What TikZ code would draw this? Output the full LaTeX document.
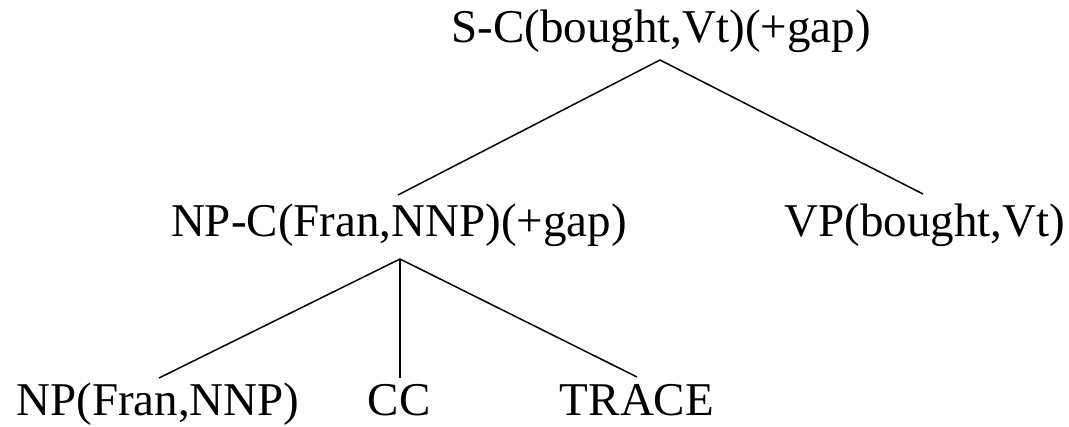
\documentclass[tikz,border=0pt]{standalone}
\usepackage{fontspec}
\setmainfont{Liberation Serif}
\begin{document}
\begin{tikzpicture}[x=1pt,y=1pt,
  lbl/.style={anchor=base,inner sep=0pt,font=\fontsize{47}{50}\selectfont},
  edge/.style={line width=1.5pt}]
\useasboundingbox (0,0) rectangle (1069,426);
\node[lbl] (s) at (661,383) {S-C(bought,Vt)(+gap)};
\node[lbl] (npc) at (399,189) {NP-C(Fran,NNP)(+gap)};
\node[lbl] (vp) at (925,189) {VP(bought,Vt)};
\node[lbl] (np) at (158,10) {NP(Fran,NNP)};
\node[lbl] (cc) at (399,10) {CC};
\node[lbl] (tr) at (637,10) {TRACE};
\coordinate (s-b) at (660,366);
\coordinate (npc-t) at (398,231);
\coordinate (vp-t) at (923,232);
\coordinate (npc-b) at (400,167);
\coordinate (np-t) at (159,48);
\coordinate (cc-t) at (400,48);
\coordinate (tr-t) at (637,49);
\draw[edge] (npc-t) -- (s-b) -- (vp-t);
\draw[edge] (np-t) -- (npc-b) -- (tr-t);
\draw[edge] (npc-b) -- (cc-t);
\end{tikzpicture}
\end{document}
